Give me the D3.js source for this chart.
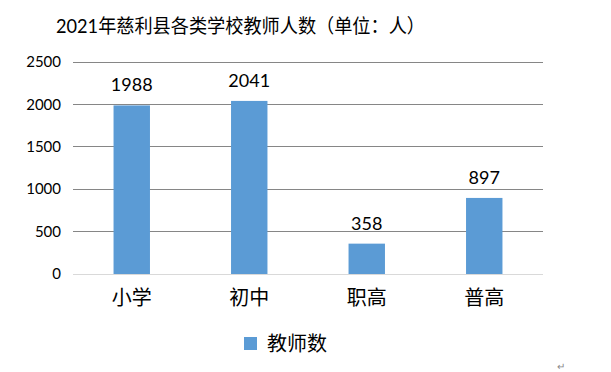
<!DOCTYPE html>
<html>
<head>
<meta charset="utf-8">
<script src="https://cdn.jsdelivr.net/npm/d3@7"></script>
<style>
  body { margin: 0; background: #fff; }
  text { font-family: Lato, "Noto Sans CJK SC", sans-serif; fill: #000; }
</style>
</head>
<body>
<svg id="chart" width="611" height="372"></svg>
<script>
var categories = ["小学", "初中", "职高", "普高"];
var teachers = [1988, 2041, 358, 897];
var yTicks = [0, 500, 1000, 1500, 2000, 2500];

var svg = d3.select("#chart");
var margin = {top: 62, left: 73, right: 68, bottom: 98};
var width = 611 - margin.left - margin.right,
    height = 372 - margin.top - margin.bottom;

var x = d3.scaleBand().domain(categories).range([0, width]).paddingInner(0.69).paddingOuter(0.345);
var y = d3.scaleLinear().domain([0, 2500]).range([height, 0]);

var g = svg.append("g").attr("transform", "translate(" + margin.left + "," + margin.top + ")");

// title
svg.append("text")
  .attr("x", 56).attr("y", 33)
  .attr("textLength", 369)
  .attr("lengthAdjust", "spacingAndGlyphs")
  .style("font-size", "19.5px")
  .text("2021年慈利县各类学校教师人数（单位：人）");

// gridlines
g.selectAll(".grid").data(yTicks).enter().append("line")
  .attr("x1", 0).attr("x2", width)
  .attr("y1", function (d) { return y(d); })
  .attr("y2", function (d) { return y(d); })
  .attr("stroke", function (d) { return d === 0 ? "#d9d9d9" : "#868686"; })
  .attr("stroke-width", 1)
  .attr("shape-rendering", "crispEdges");

// y labels
g.selectAll(".ylab").data(yTicks).enter().append("text")
  .attr("x", -12).attr("y", function (d) { return y(d); })
  .attr("dy", "0.35em")
  .attr("text-anchor", "end")
  .style("font-size", "15px")
  .text(function (d) { return d; });

// bars
g.selectAll(".bar").data(teachers).enter().append("rect")
  .attr("x", function (d, i) { return x(categories[i]); })
  .attr("y", function (d) { return y(d); })
  .attr("width", x.bandwidth())
  .attr("height", function (d) { return height - y(d); })
  .attr("fill", "#5b9bd5");

// value labels
g.selectAll(".vlab").data(teachers).enter().append("text")
  .attr("x", function (d, i) { return x(categories[i]) + x.bandwidth() / 2; })
  .attr("y", function (d) { return y(d) - 14; })
  .attr("text-anchor", "middle")
  .style("font-size", "18px")
  .text(function (d) { return d; });

// category labels
g.selectAll(".xlab").data(categories).enter().append("text")
  .attr("x", function (d) { return x(d) + x.bandwidth() / 2; })
  .attr("y", height + 31)
  .attr("text-anchor", "middle")
  .style("font-size", "20px")
  .style("font-family", "\"Noto Sans CJK SC\", sans-serif")
  .text(function (d) { return d; });

// legend
svg.append("rect").attr("x", 244).attr("y", 337).attr("width", 13).attr("height", 13).attr("fill", "#5b9bd5");
svg.append("text")
  .attr("x", 267).attr("y", 351)
  .style("font-size", "20px")
  .style("font-family", "\"Noto Sans CJK SC\", sans-serif")
  .text("教师数");

// paragraph mark
svg.append("text")
  .attr("x", 557).attr("y", 370)
  .style("font-size", "10px")
  .style("fill", "#888")
  .text("↵");
</script>
</body>
</html>
